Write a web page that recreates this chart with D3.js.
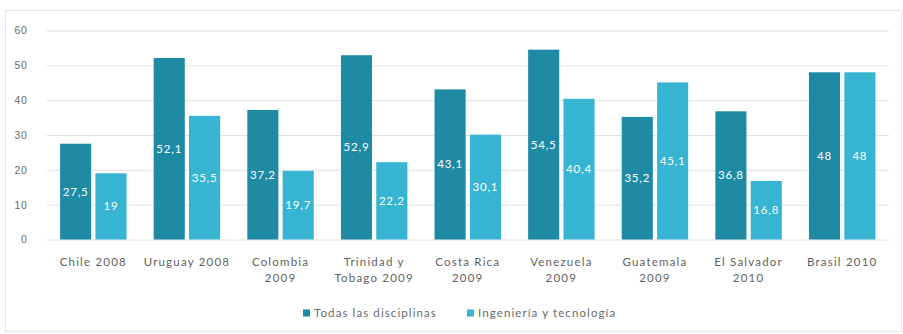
<!DOCTYPE html>
<html>
<head>
<meta charset="utf-8">
<script src="https://cdn.jsdelivr.net/npm/d3@7"></script>
<style>
  html, body { margin: 0; padding: 0; background: #fff; }
  svg { display: block; font-family: Lato, "Open Sans", sans-serif; }
</style>
</head>
<body>
<svg id="chart" width="903" height="334"></svg>
<script>
// Categories (two-line labels) and series
const categories = [
  ["Chile 2008"],
  ["Uruguay 2008"],
  ["Colombia", "2009"],
  ["Trinidad y", "Tobago 2009"],
  ["Costa Rica", "2009"],
  ["Venezuela", "2009"],
  ["Guatemala", "2009"],
  ["El Salvador", "2010"],
  ["Brasil 2010"]
];
const seriesNames = ["Todas las disciplinas", "Ingeniería y tecnología"];
const todasValues = [27.5, 52.1, 37.2, 52.9, 43.1, 54.5, 35.2, 36.8, 48];
const ingenieriaValues = [19, 35.5, 19.7, 22.2, 30.1, 40.4, 45.1, 16.8, 48];
const yTicks = [0, 10, 20, 30, 40, 50, 60];
const colors = ["#1f8aa4", "#36b4d2"];

const svg = d3.select("#chart");
const W = 903, H = 334;

// Outer frame
svg.append("rect")
  .attr("x", 5.5).attr("y", 10.5)
  .attr("width", W - 7).attr("height", H - 13)
  .attr("fill", "#fff").attr("stroke", "#e3e3e3").attr("stroke-width", 1);

const margin = { left: 46.5, right: 14, top: 30.5, bottom: 94.5 };
const x0 = d3.scaleBand()
  .domain(d3.range(categories.length))
  .range([margin.left, W - margin.right])
  .paddingInner(0.29).paddingOuter(0.145);
const x1 = d3.scaleBand()
  .domain([0, 1])
  .range([0, x0.bandwidth()])
  .paddingInner(0.12);
const y = d3.scaleLinear().domain([0, 60]).range([H - margin.bottom, margin.top]);

// Gridlines + y labels
const yAxis = d3.axisLeft(y).tickValues(yTicks)
  .tickSize(-(W - margin.right - margin.left)).tickPadding(19)
  .tickFormat(d3.format("d"));
const gy = svg.append("g").attr("transform", `translate(${margin.left},0)`).call(yAxis);
gy.select(".domain").remove();
gy.selectAll(".tick line").attr("stroke", "#e0e0e0").attr("stroke-width", 1);
gy.selectAll(".tick text").attr("fill", "#6a6a6a").attr("font-size", 10.5)
  .attr("letter-spacing", 0.6);

// Bars
const rows = categories.map((c, i) => ({ i, vals: [todasValues[i], ingenieriaValues[i]] }));
const groups = svg.append("g").selectAll("g").data(rows).join("g")
  .attr("transform", d => `translate(${x0(d.i)},0)`);
groups.selectAll("rect").data(d => d.vals.map((v, s) => ({ v, s }))).join("rect")
  .attr("x", d => x1(d.s))
  .attr("y", d => y(d.v))
  .attr("width", x1.bandwidth())
  .attr("height", d => y(0) - y(d.v))
  .attr("fill", d => colors[d.s]);

// Value labels, centred in each bar
groups.selectAll("text.val").data(d => d.vals.map((v, s) => ({ v, s }))).join("text")
  .attr("class", "val")
  .attr("x", d => x1(d.s) + x1.bandwidth() / 2)
  .attr("y", d => (y(d.v) + y(0)) / 2)
  .attr("dy", "0.35em")
  .attr("text-anchor", "middle")
  .attr("fill", "#fff")
  .attr("font-size", 11.5)
  .attr("letter-spacing", 0.8)
  .text(d => String(d.v).replace(".", ","));

// Category labels
const xl = svg.append("g").selectAll("text").data(categories).join("text")
  .attr("x", (d, i) => x0(i) + x0.bandwidth() / 2)
  .attr("y", 262)
  .attr("text-anchor", "middle")
  .attr("fill", "#5f5f5f")
  .attr("font-size", 11.5)
  .attr("letter-spacing", 1.2);
xl.selectAll("tspan").data(d => d).join("tspan")
  .attr("x", function () { return d3.select(this.parentNode).attr("x"); })
  .attr("dy", (d, j) => j === 0 ? "0.35em" : "16px")
  .text(d => d);

// Legend
const legendX = [303, 467];
const lg = svg.append("g").selectAll("g").data(seriesNames).join("g")
  .attr("transform", (d, i) => `translate(${legendX[i]},313)`);
lg.append("rect").attr("x", 0).attr("y", -3.5).attr("width", 7).attr("height", 7)
  .attr("fill", (d, i) => colors[i]);
lg.append("text").attr("x", 11).attr("dy", "0.35em")
  .attr("fill", "#6a6a6a").attr("font-size", 11.5).attr("letter-spacing", 1.1)
  .text(d => d);
</script>
</body>
</html>
